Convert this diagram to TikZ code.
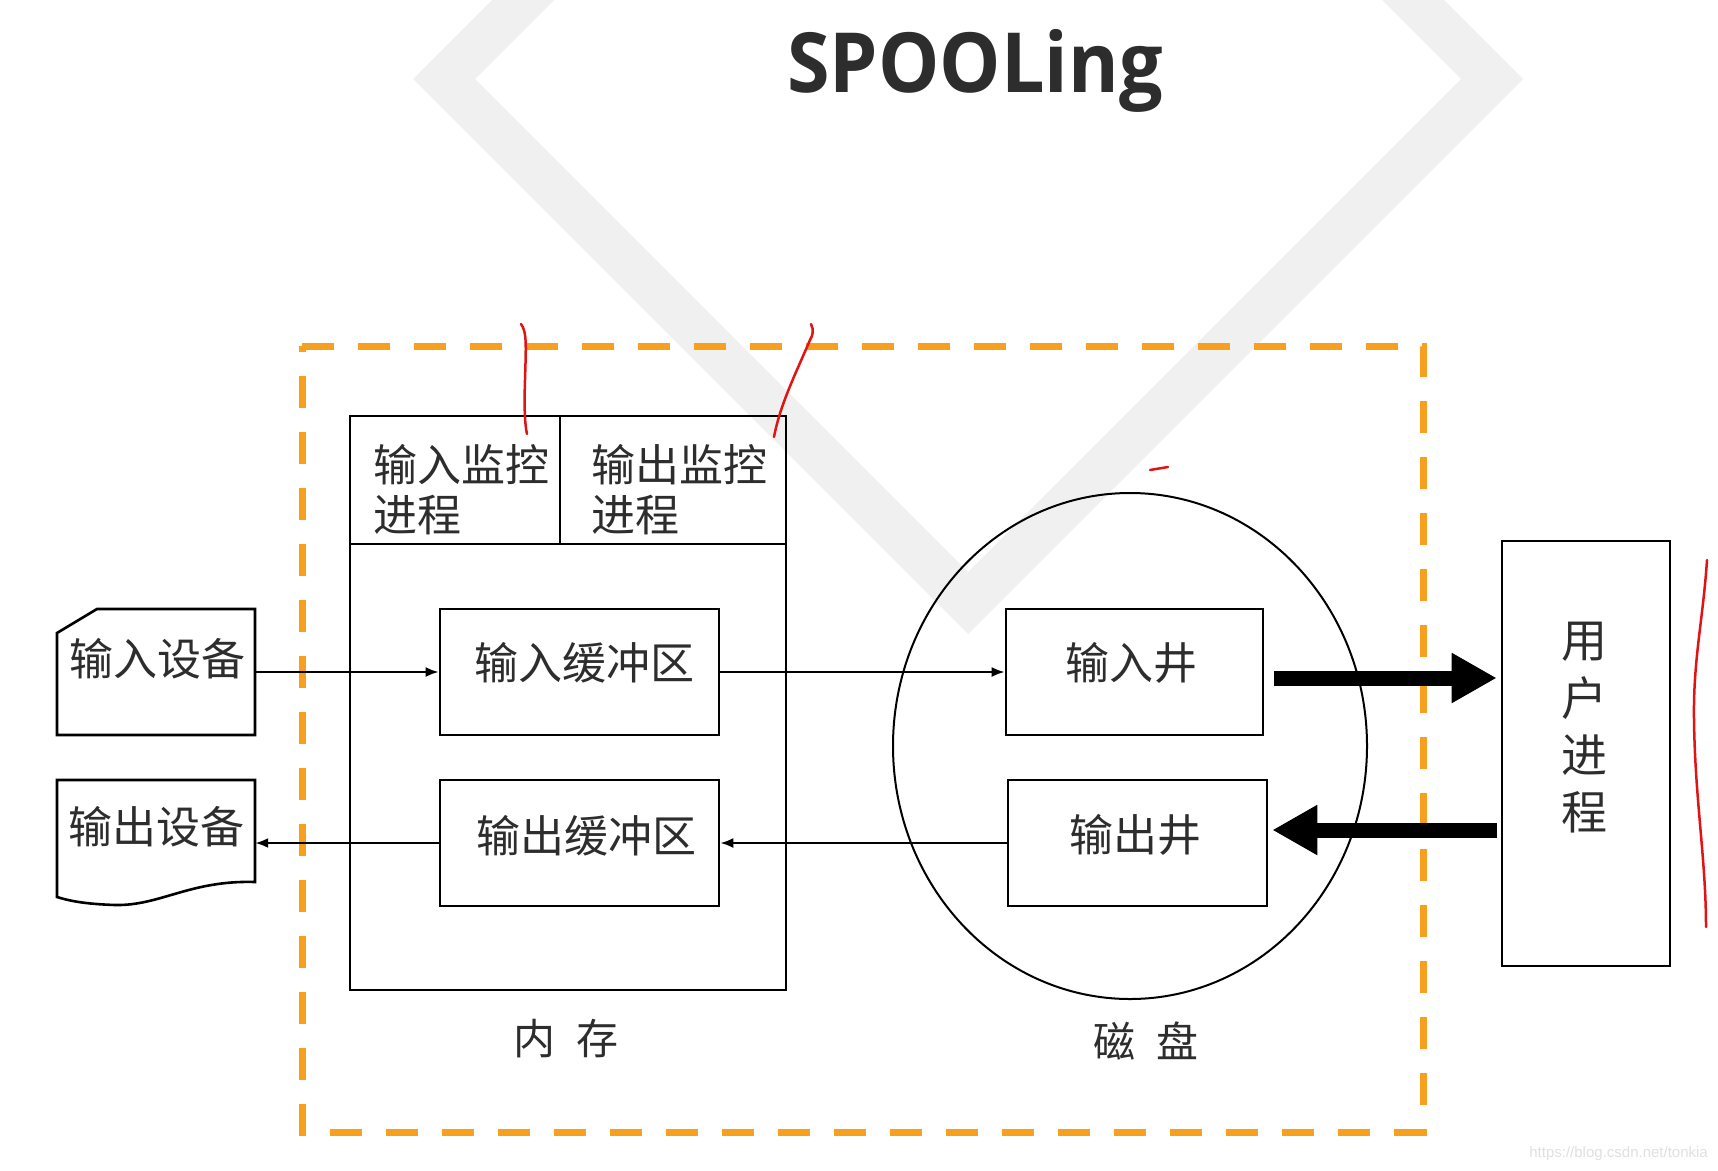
\documentclass[tikz,border=0pt]{standalone}
\usepackage{fontspec}
\newfontfamily\cjk{Noto Sans CJK SC}
\newfontfamily\titlefont{Open Sans}
\newfontfamily\wmfont{Liberation Sans}
\usetikzlibrary{arrows.meta,shapes.geometric,calc}
\definecolor{ink}{RGB}{45,45,45}
\definecolor{spoolorange}{RGB}{246,160,30}
\definecolor{wmgray}{RGB}{240,240,240}
\definecolor{pen}{RGB}{225,20,20}
\tikzset{
  boxline/.style={draw=black, line width=2.6pt, inner sep=0pt},
  txt/.style={font=\cjk\fontsize{44}{50}\selectfont, text=ink, inner sep=0pt},
  thinarrow/.style={line width=2.3pt, -{Latex[length=13pt,width=10pt]}},
  bigarrow/.style={line width=15pt, -{Triangle[length=45pt,width=47pt]}},
  redmark/.style={draw=pen, line width=2.5pt, line cap=round, line join=round},
  dashbox/.style={draw=spoolorange, line width=7pt, dash pattern=on 32pt off 24pt},
}
\begin{document}
\begin{tikzpicture}[x=1pt,y=-1pt]
\useasboundingbox (0,0) rectangle (1718,1170);
\fill[white] (0,0) rectangle (1718,1170);
% watermark diamond
\begin{scope}
\clip (0,0) rectangle (1718,1170);
\fill[wmgray, even odd rule] (968,-476) -- (1523,79) -- (968,634) -- (413,79) -- cycle
  (968,-414) -- (1461,79) -- (968,572) -- (475,79) -- cycle;
\end{scope}
% title
\node[font=\titlefont\bfseries\fontsize{83}{83}\selectfont, text=ink, anchor=base, inner sep=0pt] (title) at (975,92) {\scalebox{0.93}[1]{SPOOLing}};
% dashed frame
\draw[dashbox] (302,346) -- (1423,346) -- (1423,1132) -- (302,1132) -- cycle;
% memory
\node[boxline, minimum width=436pt, minimum height=574pt] (mem) at (568,703) {};
\node[boxline, minimum width=210pt, minimum height=128pt] (inmon) at (455,480) {};
\node[boxline, minimum width=226pt, minimum height=128pt] (outmon) at (673,480) {};
\node[txt, anchor=west, align=left] (inmontxt) at (373,490) {输入监控\\进程};
\node[txt, anchor=west, align=left] (outmontxt) at (591,490) {输出监控\\进程};
\node[boxline, minimum width=279pt, minimum height=126pt] (inbuf) at (579.5,672) {};
\node[txt] (inbuftxt) at (584,663) {输入缓冲区};
\node[boxline, minimum width=279pt, minimum height=126pt] (outbuf) at (579.5,843) {};
\node[txt] (outbuftxt) at (586,836) {输出缓冲区};
% disk
\node[draw, line width=2pt, ellipse, minimum width=474pt, minimum height=506pt, inner sep=0pt] (disk) at (1130,746) {};
\node[boxline, minimum width=257pt, minimum height=126pt] (inwell) at (1134.5,672) {};
\node[txt] (inwelltxt) at (1131,663) {输入井};
\node[boxline, minimum width=259pt, minimum height=126pt] (outwell) at (1137.5,843) {};
\node[txt] (outwelltxt) at (1135,835) {输出井};
% user process
\node[boxline, minimum width=168pt, minimum height=425pt] (user) at (1586,753.5) {};
\node[txt, align=center, font=\cjk\fontsize{46}{57.3}\selectfont] (usertxt) at (1584,728) {用\\户\\进\\程};
% devices
\node[minimum width=198pt, minimum height=126pt, inner sep=0pt] (indev) at (156,672) {};
\draw[line width=2.6pt, line join=miter] (57,633) -- (97,609) -- (255,609) -- (255,735) -- (57,735) -- cycle;
\node[txt] (indevtxt) at (157,659) {输入设备};
\node[minimum width=198pt, minimum height=118pt, inner sep=0pt] (outdev) at (156,839) {};
\draw[line width=2.6pt, line join=miter] (57,780) -- (255,780) -- (255,882)
  .. controls (190,880) and (160,906) .. (115,905)
  .. controls (85,904) and (70,901) .. (57,897) -- cycle;
\node[txt] (outdevtxt) at (156,827) {输出设备};
% labels
\node[txt, font=\cjk\fontsize{42}{42}\selectfont] (memlabel) at (566,1039) {内\hspace{22pt}存};
\node[txt, font=\cjk\fontsize{42}{42}\selectfont] (disklabel) at (1146,1041) {磁\hspace{22pt}盘};
% connectors
\draw[thinarrow] (indev.east) -- (inbuf.west);
\draw[thinarrow] (inbuf.east) -- (inwell.west);
\draw[thinarrow] (outwell.west) -- (outbuf.east);
\draw[thinarrow] (outbuf.west) -- (outbuf.west -| outdev.east);
\draw[bigarrow] ($(inwell.east)+(10,6)$) -- ($(inwell.east -| user.west)+(-4,6)$);
\draw[bigarrow] ($(outwell.east -| user.west)+(-4,-13)$) -- ($(outwell.east)+(4,-13)$);
% red pen marks
\draw[redmark] (521,324) .. controls (527,332) and (526,345) .. (525,380) .. controls (524,410) and (525,425) .. (527,434);
\draw[redmark] (811,324) .. controls (814,330) and (813,335) .. (810,340) .. controls (795,375) and (780,405) .. (774,437);
\draw[redmark] (1150,470) -- (1168,467);
\draw[redmark] (1707,560) .. controls (1703,620) and (1693,660) .. (1694,720) .. controls (1695,800) and (1706,860) .. (1706,927);
% watermark text
\node[font=\wmfont\fontsize{15}{15}\selectfont, text=black!12, anchor=base east, inner sep=0pt] (wmtext) at (1708,1157) {https://blog.csdn.net/tonkia};
\end{tikzpicture}
\end{document}
